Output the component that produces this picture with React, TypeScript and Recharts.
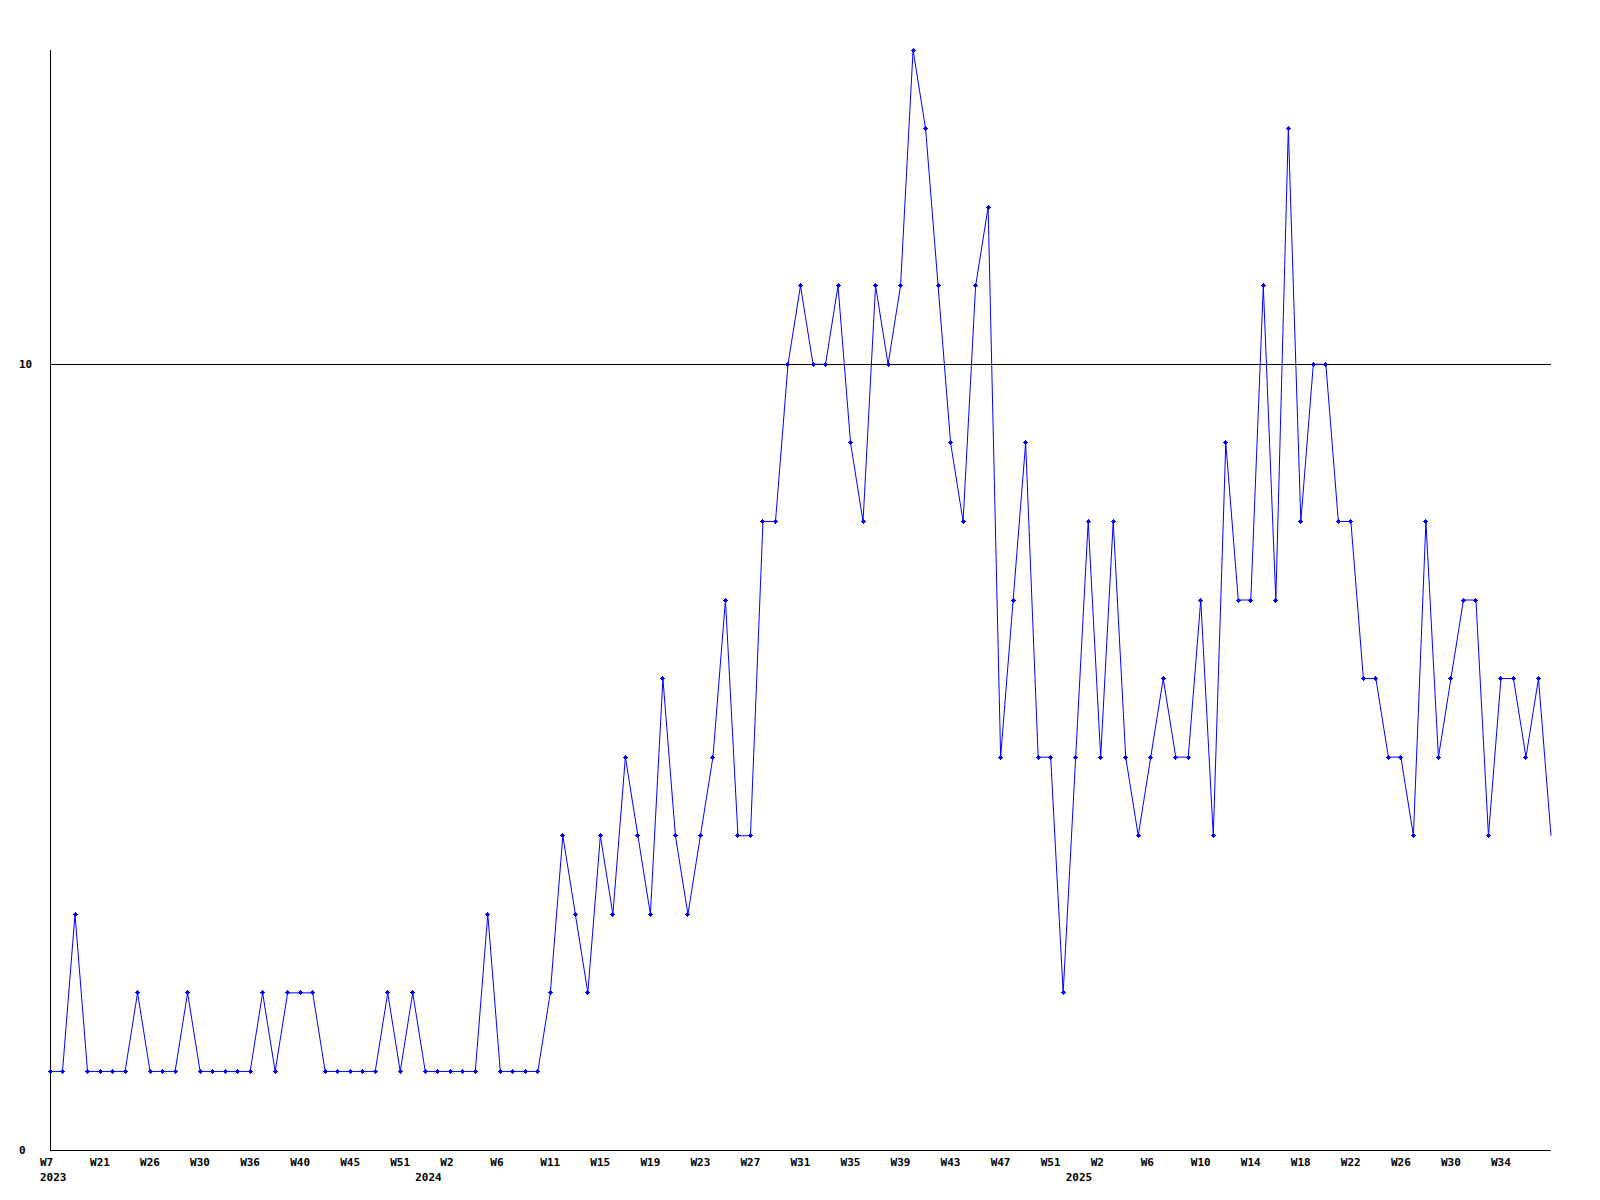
import { LineChart, Line, XAxis, YAxis, ReferenceLine } from "recharts";

// weekly counts, one point per column
const counts = [
  1, 1, 3, 1, 1, 1, 1, 2, 1, 1,
  1, 2, 1, 1, 1, 1, 1, 2, 1, 2,
  2, 2, 1, 1, 1, 1, 1, 2, 1, 2,
  1, 1, 1, 1, 1, 3, 1, 1, 1, 1,
  2, 4, 3, 2, 4, 3, 5, 4, 3, 6,
  4, 3, 4, 5, 7, 4, 4, 8, 8, 10,
  11, 10, 10, 11, 9, 8, 11, 10, 11, 14,
  13, 11, 9, 8, 11, 12, 5, 7, 9, 5,
  5, 2, 5, 8, 5, 8, 5, 4, 5, 6,
  5, 5, 7, 4, 9, 7, 7, 11, 7, 13,
  8, 10, 10, 8, 8, 6, 6, 5, 5, 4,
  8, 5, 6, 7, 7, 4, 6, 6, 5, 6,
  4,
];

// a week label every 4th point
const tickLabels = [
  "W7", "W21", "W26", "W30", "W36", "W40", "W45", "W51", "W2", "W6",
  "W11", "W15", "W19", "W23", "W27", "W31", "W35", "W39", "W43", "W47",
  "W51", "W2", "W6", "W10", "W14", "W18", "W22", "W26", "W30", "W34",
];

// year labels sit at the point where the year begins
const yearPoints = [0, 30, 82];
const yearNames = ["2023", "2024", "2025"];

const yTicks = [0, 10];

const data = counts.map((count, i) => ({ i, count }));
const weekTicks = tickLabels.map((_, k) => k * 4);
const xTicks = Array.from(new Set([...weekTicks, ...yearPoints])).sort((a, b) => a - b);

const font = "'DejaVu Sans Mono', monospace";

function XTick(props: any) {
  const { x, y, payload } = props;
  const p = payload.value;
  const yi = yearPoints.indexOf(p);
  return (
    <g>
      {p % 4 === 0 && (
        <text x={x - 10} y={y + 16} fontFamily={font} fontSize={11} fontWeight="bold" fill="#000">
          {tickLabels[p / 4]}
        </text>
      )}
      {yi >= 0 && (
        <text x={x - 10} y={y + 31} fontFamily={font} fontSize={11} fontWeight="bold" fill="#000">
          {yearNames[yi]}
        </text>
      )}
    </g>
  );
}

function YTick(props: any) {
  const { y, payload } = props;
  return (
    <text x={19} y={y + 4} fontFamily={font} fontSize={11} fontWeight="bold" fill="#000">
      {payload.value}
    </text>
  );
}

function Marker(props: any) {
  const { cx, cy, index } = props;
  if (index === counts.length - 1) return <g key={index} />;
  return (
    <path
      key={index}
      d={`M${cx - 2.5},${cy - 0.5}h5v1h-5z M${cx - 0.5},${cy - 2.5}h1v5h-1z M${cx - 1.5},${cy - 1.5}h3v3h-3z`}
      fill="#0000ff"
      shapeRendering="crispEdges"
    />
  );
}

export default function App() {
  return (
    <div style={{ position: "absolute", left: 0, top: 0 }}>
      <LineChart
        width={1600}
        height={1200}
        data={data}
        margin={{ top: 50, right: 49, bottom: 0, left: 0 }}
      >
        <XAxis
          dataKey="i"
          type="number"
          domain={[0, counts.length - 1]}
          ticks={xTicks}
          interval={0}
          height={50}
          tickLine={false}
          tickSize={0}
          tickMargin={0}
          axisLine={{ stroke: "#000", shapeRendering: "crispEdges" }}
          tick={<XTick />}
        />
        <YAxis
          type="number"
          domain={[0, 14]}
          ticks={yTicks}
          width={50}
          tickLine={false}
          tickSize={0}
          tickMargin={0}
          axisLine={{ stroke: "#000", shapeRendering: "crispEdges" }}
          tick={<YTick />}
        />
        <ReferenceLine y={10} stroke="#000" strokeWidth={1} shapeRendering="crispEdges" />
        <Line
          type="linear"
          dataKey="count"
          stroke="#0000ff"
          strokeWidth={1}
          dot={<Marker />}
          activeDot={false}
          isAnimationActive={false}
        />
      </LineChart>
    </div>
  );
}
